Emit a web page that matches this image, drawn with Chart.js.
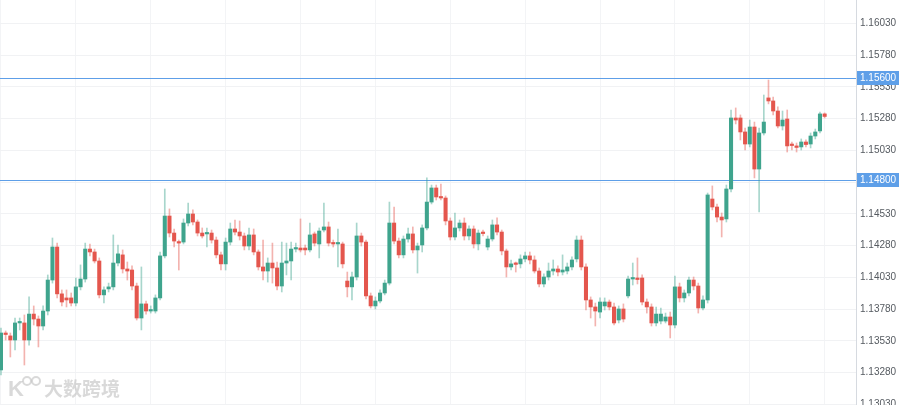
<!DOCTYPE html>
<html>
<head>
<meta charset="utf-8">
<script src="https://cdn.jsdelivr.net/npm/chart.js@4.4.1/dist/chart.umd.min.js"></script>
<style>
  html, body { margin: 0; padding: 0; background: #fff; }
  #wrap { width: 900px; height: 405px; position: relative; }
</style>
</head>
<body>
<div id="wrap"><canvas id="chart"></canvas></div>
<script>
// OHLC per candle (oldest first)
const opens = [
  1.13301, 1.13592, 1.13569, 1.13537, 1.13671, 1.13671, 1.13537, 1.13741, 1.13702, 1.13647,
  1.13765, 1.14009, 1.14269, 1.13900, 1.13868, 1.13868, 1.13828, 1.13955, 1.14017, 1.14253,
  1.14230, 1.14159, 1.13892, 1.13939, 1.13955, 1.14143, 1.14207, 1.14096, 1.14088, 1.13962,
  1.13710, 1.13821, 1.13765, 1.13765, 1.13868, 1.14199, 1.14513, 1.14379, 1.14308, 1.14308,
  1.14458, 1.14529, 1.14466, 1.14379, 1.14372, 1.14379, 1.14324, 1.14207, 1.14136, 1.14308,
  1.14411, 1.14387, 1.14356, 1.14277, 1.14364, 1.14230, 1.14112, 1.14080, 1.14143, 1.14104,
  1.13962, 1.14143, 1.14159, 1.14253, 1.14261, 1.14261, 1.14246, 1.14372, 1.14293, 1.14403,
  1.14427, 1.14300, 1.14293, 1.14293, 1.14001, 1.13955, 1.14033, 1.14356, 1.14308, 1.13884,
  1.13805, 1.13844, 1.13907, 1.13985, 1.14458, 1.14316, 1.14207, 1.14332, 1.14372, 1.14246,
  1.14285, 1.14419, 1.14623, 1.14734, 1.14663, 1.14655, 1.14474, 1.14348, 1.14419, 1.14458,
  1.14356, 1.14411, 1.14293, 1.14379, 1.14269, 1.14332, 1.14443, 1.14387, 1.14238, 1.14112,
  1.14136, 1.14136, 1.14175, 1.14199, 1.14167, 1.14080, 1.13978, 1.14033, 1.14080, 1.14096,
  1.14072, 1.14080, 1.14112, 1.14175, 1.14324, 1.14112, 1.13852, 1.13797, 1.13757, 1.13805,
  1.13836, 1.13797, 1.13694, 1.13781, 1.13884, 1.14017, 1.14025, 1.14025, 1.13836, 1.13797,
  1.13671, 1.13686, 1.13686, 1.13718, 1.13655, 1.13955, 1.13868, 1.13907, 1.14009, 1.13962,
  1.13789, 1.13852, 1.14647, 1.14584, 1.14505, 1.14490, 1.14726, 1.15285, 1.15285, 1.15175,
  1.15080, 1.15214, 1.14883, 1.15167, 1.15443, 1.15419, 1.15340, 1.15222, 1.15277, 1.15072,
  1.15065, 1.15057, 1.15096, 1.15080, 1.15143, 1.15183, 1.15317
];
const highs = [
  1.13631, 1.13608, 1.13592, 1.13710, 1.13710, 1.13734, 1.13876, 1.13805, 1.13726, 1.13805,
  1.14049, 1.14340, 1.14300, 1.13931, 1.13931, 1.13907, 1.14025, 1.14128, 1.14300, 1.14293,
  1.14253, 1.14183, 1.13955, 1.13985, 1.14364, 1.14285, 1.14246, 1.14151, 1.14120, 1.13985,
  1.14112, 1.13844, 1.13805, 1.13892, 1.14230, 1.14726, 1.14569, 1.14411, 1.14324, 1.14490,
  1.14615, 1.14561, 1.14482, 1.14419, 1.14419, 1.14403, 1.14348, 1.14230, 1.14340, 1.14458,
  1.14482, 1.14474, 1.14379, 1.14419, 1.14411, 1.14246, 1.14324, 1.14183, 1.14300, 1.14151,
  1.14308, 1.14300, 1.14308, 1.14300, 1.14490, 1.14285, 1.14458, 1.14387, 1.14419, 1.14615,
  1.14466, 1.14324, 1.14411, 1.14308, 1.14072, 1.14072, 1.14458, 1.14379, 1.14324, 1.13907,
  1.13876, 1.13931, 1.14009, 1.14623, 1.14584, 1.14340, 1.14356, 1.14419, 1.14427, 1.14300,
  1.14443, 1.14813, 1.14757, 1.14757, 1.14765, 1.14671, 1.14498, 1.14537, 1.14482, 1.14498,
  1.14435, 1.14435, 1.14403, 1.14403, 1.14356, 1.14482, 1.14498, 1.14403, 1.14253, 1.14167,
  1.14151, 1.14207, 1.14230, 1.14230, 1.14199, 1.14104, 1.14057, 1.14143, 1.14167, 1.14120,
  1.14207, 1.14143, 1.14191, 1.14356, 1.14356, 1.14136, 1.13876, 1.13828, 1.13868, 1.13868,
  1.13852, 1.13828, 1.13805, 1.13821, 1.14041, 1.14143, 1.14183, 1.14049, 1.13860, 1.13821,
  1.13797, 1.13789, 1.13749, 1.13757, 1.14041, 1.13985, 1.13931, 1.14033, 1.14033, 1.13985,
  1.13884, 1.14694, 1.14750, 1.14608, 1.14537, 1.14757, 1.15348, 1.15364, 1.15309, 1.15206,
  1.15269, 1.15253, 1.15206, 1.15466, 1.15584, 1.15450, 1.15372, 1.15340, 1.15348, 1.15096,
  1.15088, 1.15120, 1.15112, 1.15167, 1.15198, 1.15332, 1.15325
];
const lows = [
  1.13262, 1.13537, 1.13403, 1.13458, 1.13616, 1.13340, 1.13497, 1.13655, 1.13482, 1.13616,
  1.13734, 1.13985, 1.13868, 1.13805, 1.13797, 1.13805, 1.13805, 1.13931, 1.13993, 1.14199,
  1.14143, 1.13868, 1.13828, 1.13915, 1.13931, 1.14120, 1.14064, 1.14009, 1.13931, 1.13694,
  1.13616, 1.13741, 1.13749, 1.13749, 1.13852, 1.14183, 1.14348, 1.14269, 1.14088, 1.14293,
  1.14435, 1.14443, 1.14356, 1.14340, 1.14269, 1.14300, 1.14183, 1.14088, 1.14088, 1.14285,
  1.14364, 1.14324, 1.14246, 1.14246, 1.14207, 1.14088, 1.14009, 1.13993, 1.13985, 1.13931,
  1.13915, 1.14049, 1.14009, 1.14230, 1.14230, 1.14207, 1.14230, 1.14277, 1.14183, 1.14387,
  1.14277, 1.14269, 1.14112, 1.14104, 1.13876, 1.13852, 1.14009, 1.14277, 1.13860, 1.13789,
  1.13781, 1.13828, 1.13892, 1.13970, 1.14293, 1.14183, 1.14183, 1.14308, 1.14222, 1.14064,
  1.14230, 1.14403, 1.14608, 1.14639, 1.14639, 1.14443, 1.14324, 1.14324, 1.14395, 1.14324,
  1.14324, 1.14261, 1.14246, 1.14356, 1.14246, 1.14316, 1.14364, 1.14207, 1.14033, 1.14088,
  1.14072, 1.14104, 1.14151, 1.14136, 1.14064, 1.13955, 1.13955, 1.14009, 1.14049, 1.14041,
  1.14049, 1.14057, 1.14088, 1.14151, 1.14088, 1.13773, 1.13710, 1.13647, 1.13710, 1.13773,
  1.13773, 1.13655, 1.13671, 1.13679, 1.13868, 1.13970, 1.13978, 1.13813, 1.13749, 1.13647,
  1.13647, 1.13663, 1.13671, 1.13553, 1.13631, 1.13836, 1.13836, 1.13884, 1.13931, 1.13749,
  1.13773, 1.13828, 1.14561, 1.14466, 1.14348, 1.14466, 1.14703, 1.15238, 1.15112, 1.15033,
  1.15057, 1.14813, 1.14545, 1.15151, 1.15396, 1.15309, 1.15206, 1.15190, 1.15017, 1.15033,
  1.15017, 1.15033, 1.15057, 1.15049, 1.15120, 1.15167, 1.15285
];
const closes = [
  1.13592, 1.13580, 1.13537, 1.13671, 1.13679, 1.13537, 1.13741, 1.13702, 1.13647, 1.13765,
  1.14009, 1.14269, 1.13900, 1.13836, 1.13852, 1.13828, 1.13955, 1.14017, 1.14253, 1.14230,
  1.14159, 1.13892, 1.13931, 1.13955, 1.14143, 1.14215, 1.14096, 1.14080, 1.13962, 1.13710,
  1.13821, 1.13765, 1.13773, 1.13868, 1.14199, 1.14513, 1.14379, 1.14316, 1.14300, 1.14458,
  1.14529, 1.14466, 1.14379, 1.14356, 1.14379, 1.14324, 1.14207, 1.14136, 1.14308, 1.14411,
  1.14387, 1.14356, 1.14277, 1.14364, 1.14230, 1.14112, 1.14080, 1.14143, 1.14104, 1.13962,
  1.14143, 1.14159, 1.14253, 1.14261, 1.14246, 1.14246, 1.14364, 1.14300, 1.14395, 1.14427,
  1.14300, 1.14293, 1.14297, 1.14136, 1.13955, 1.14033, 1.14356, 1.14308, 1.13884, 1.13805,
  1.13844, 1.13907, 1.13985, 1.14458, 1.14316, 1.14207, 1.14332, 1.14372, 1.14246, 1.14277,
  1.14419, 1.14623, 1.14734, 1.14663, 1.14655, 1.14474, 1.14348, 1.14419, 1.14458, 1.14356,
  1.14411, 1.14293, 1.14379, 1.14375, 1.14332, 1.14443, 1.14387, 1.14238, 1.14112, 1.14136,
  1.14132, 1.14175, 1.14199, 1.14167, 1.14080, 1.13978, 1.14033, 1.14080, 1.14096, 1.14072,
  1.14088, 1.14112, 1.14167, 1.14324, 1.14112, 1.13852, 1.13797, 1.13765, 1.13836, 1.13836,
  1.13797, 1.13671, 1.13781, 1.13702, 1.14017, 1.14025, 1.14013, 1.13836, 1.13797, 1.13671,
  1.13741, 1.13741, 1.13718, 1.13655, 1.13955, 1.13868, 1.13907, 1.14009, 1.13962, 1.13789,
  1.13852, 1.14679, 1.14584, 1.14505, 1.14482, 1.14726, 1.15285, 1.15269, 1.15175, 1.15080,
  1.15214, 1.14883, 1.15167, 1.15253, 1.15419, 1.15340, 1.15222, 1.15269, 1.15065, 1.15068,
  1.15053, 1.15096, 1.15076, 1.15143, 1.15175, 1.15317, 1.15297
];

// price axis ticks and the two marked levels
const yTicks = [1.13030, 1.13280, 1.13530, 1.13780, 1.14030, 1.14280, 1.14530,
                1.14780, 1.15030, 1.15280, 1.15530, 1.15780, 1.16030];
const levels = [1.15600, 1.14800];
// candle numbers where the faint vertical grid lines fall
const gridCandles = [0, 16, 32, 48, 64, 80, 96, 112, 128, 144, 160, 176];

const UP = '#3fa48d';
const DOWN = '#e4564d';
const UP_WICK = 'rgba(63,164,141,0.45)';
const DOWN_WICK = 'rgba(228,86,77,0.45)';
const LEVEL = '#5e9fe8';
const FONT = '"Liberation Sans", Arial, sans-serif';

const isUp = i => closes[i] >= opens[i];

const bodies = opens.map((o, i) => ({ x: i, y: [o, closes[i]] }));
const wicks = opens.map((o, i) => ({ x: i, y: [lows[i], highs[i]] }));

/**
 * Horizontal level lines with their price tags on the axis,
 * plus the faint watermark in the corner
 */
const levelPlugin = {
    id: 'levels',
    beforeDatasetsDraw(chart) {
        const { ctx, chartArea, scales } = chart;
        ctx.save();
        ctx.strokeStyle = LEVEL;
        ctx.lineWidth = 1;
        levels.forEach(v => {
            const y = Math.round(scales.y.getPixelForValue(v)) + 0.5;
            ctx.beginPath();
            ctx.moveTo(chartArea.left, y);
            ctx.lineTo(chartArea.right, y);
            ctx.stroke();
        });
        ctx.restore();
    },
    afterDatasetsDraw(chart) {
        const { ctx } = chart;
        ctx.save();
        ctx.fillStyle = 'rgba(185,185,185,0.55)';
        ctx.strokeStyle = 'rgba(185,185,185,0.55)';
        ctx.lineWidth = 2;
        // little logo
        ctx.font = 'bold 22px ' + FONT;
        ctx.textBaseline = 'alphabetic';
        ctx.fillText('K', 8, 396);
        ctx.beginPath();
        ctx.arc(27, 381, 4, 0, Math.PI * 2);
        ctx.stroke();
        ctx.beginPath();
        ctx.arc(36, 381, 4, 0, Math.PI * 2);
        ctx.stroke();
        ctx.font = 'bold 19px "Noto Sans CJK SC", sans-serif';
        ctx.fillText('大数跨境', 44, 396);
        ctx.restore();
    },
    afterDraw(chart) {
        const { ctx, chartArea, scales } = chart;
        ctx.save();
        ctx.font = '10px ' + FONT;
        ctx.textBaseline = 'middle';
        ctx.textAlign = 'left';
        levels.forEach(v => {
            const y = Math.round(scales.y.getPixelForValue(v));
            ctx.fillStyle = LEVEL;
            ctx.fillRect(chartArea.right + 1, y - 7, 42, 14);
            ctx.fillStyle = '#ffffff';
            ctx.fillText(v.toFixed(5), chartArea.right + 4, y + 0.5);
        });
        ctx.restore();
    }
};

const ctx = document.getElementById('chart').getContext('2d');
new Chart(ctx, {
    type: 'bar',
    data: {
        datasets: [
            {
                label: 'body',
                data: bodies,
                backgroundColor: bodies.map((_, i) => isUp(i) ? UP : DOWN),
                barThickness: 3.4,
                minBarLength: 1.5,
                grouped: false,
                order: 0
            },
            {
                label: 'wick',
                data: wicks,
                backgroundColor: wicks.map((_, i) => isUp(i) ? UP_WICK : DOWN_WICK),
                barThickness: 1,
                grouped: false,
                order: 1
            }
        ]
    },
    options: {
        responsive: true,
        maintainAspectRatio: false,
        animation: false,
        layout: { padding: 0 },
        plugins: {
            legend: { display: false },
            tooltip: { enabled: false }
        },
        scales: {
            x: {
                type: 'linear',
                offset: false,
                min: -0.21,
                max: 182.7,
                ticks: { display: false },
                grid: { color: '#f3f4f6', drawTicks: false, offset: false },
                border: { display: false },
                afterBuildTicks: scale => {
                    scale.ticks = gridCandles.map(v => ({ value: v }));
                },
                afterFit: scale => {
                    scale.height = 0;
                }
            },
            y: {
                position: 'right',
                min: 1.13025,
                max: 1.16214,
                afterBuildTicks: scale => {
                    scale.ticks = yTicks.map(v => ({ value: v }));
                },
                afterFit: scale => {
                    scale.width = 44;
                    scale.paddingTop = 0;
                    scale.paddingBottom = 0;
                },
                ticks: {
                    color: '#555a60',
                    padding: 4,
                    font: { size: 10, family: FONT },
                    callback: v => v.toFixed(5)
                },
                grid: { color: '#f1f2f4', drawTicks: false },
                border: { color: '#d6dae0' }
            }
        }
    },
    plugins: [levelPlugin]
});
</script>
</body>
</html>
